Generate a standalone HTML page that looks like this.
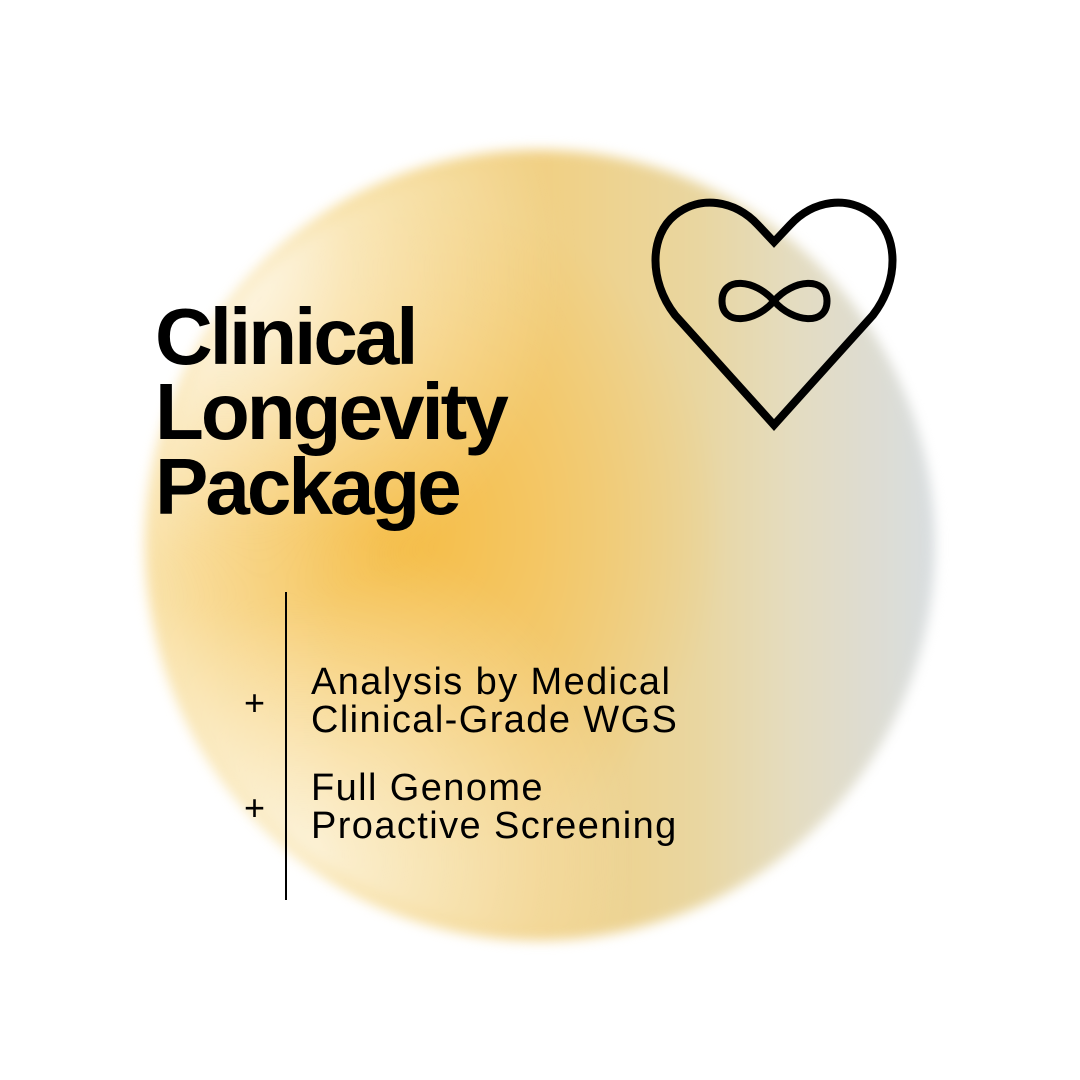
<!DOCTYPE html>
<html><head><meta charset="utf-8"><style>
html,body{margin:0;padding:0;background:#fff;}
body{width:1080px;height:1080px;position:relative;overflow:hidden;font-family:"Liberation Sans",sans-serif;}
.circ{position:absolute;left:145px;top:150px;width:790px;height:790px;border-radius:50%;
background:
radial-gradient(circle at 30% 48%, rgba(246,185,60,0.9) 0%, rgba(246,190,75,0.5) 25%, rgba(246,200,100,0) 50%),
linear-gradient(90deg,#fbf1cf 0%,#f4d27a 25%,#f1d083 50%,#e9d6a0 70%,#e4dcc0 82%,#d8dde0 100%);
filter:blur(6px);}
.fade{position:absolute;left:145px;top:150px;width:790px;height:790px;border-radius:50%;
background:radial-gradient(circle at 10% 15%, rgba(255,255,255,0.8) 0%, rgba(255,255,255,0) 35%),
radial-gradient(circle at 20% 90%, rgba(255,255,255,0.7) 0%, rgba(255,255,255,0) 35%);filter:blur(10px);}
.title{position:absolute;left:155px;top:299px;font-weight:bold;font-size:80px;line-height:75px;letter-spacing:-3px;color:#000;}
.vl{position:absolute;left:285px;top:592px;width:2px;height:308px;background:#000;}
.plus{position:absolute;font-size:36px;line-height:36px;color:#000;}
.txt{position:absolute;left:311px;font-size:38px;line-height:38px;color:#000;letter-spacing:1.4px;}
</style></head><body>
<div class="circ"></div><div class="fade"></div>
<div class="title">Clinical<br>Longevity<br>Package</div>
<svg style="position:absolute;left:0;top:0" width="1080" height="1080">
<path d="M774,242 L758,225 C735,200 700,195 675,215 C650,235 648,280 675,315 L774,425 L873,315 C900,280 898,235 873,215 C848,195 813,200 790,225 Z" fill="none" stroke="#000" stroke-width="8" stroke-linejoin="miter"/>
<path d="M774,301 C755,279 722,276 722,301 C722,326 755,323 774,301 C793,279 827,276 827,301 C827,326 793,323 774,301Z" fill="none" stroke="#000" stroke-width="7"/>
</svg>
<div class="vl"></div>
<div class="plus" style="left:244px;top:685px">+</div>
<div class="plus" style="left:244px;top:790px">+</div>
<div class="txt" style="top:663px">Analysis by Medical<br>Clinical-Grade WGS</div>
<div class="txt" style="top:769px">Full Genome<br>Proactive Screening</div>
</body></html>
